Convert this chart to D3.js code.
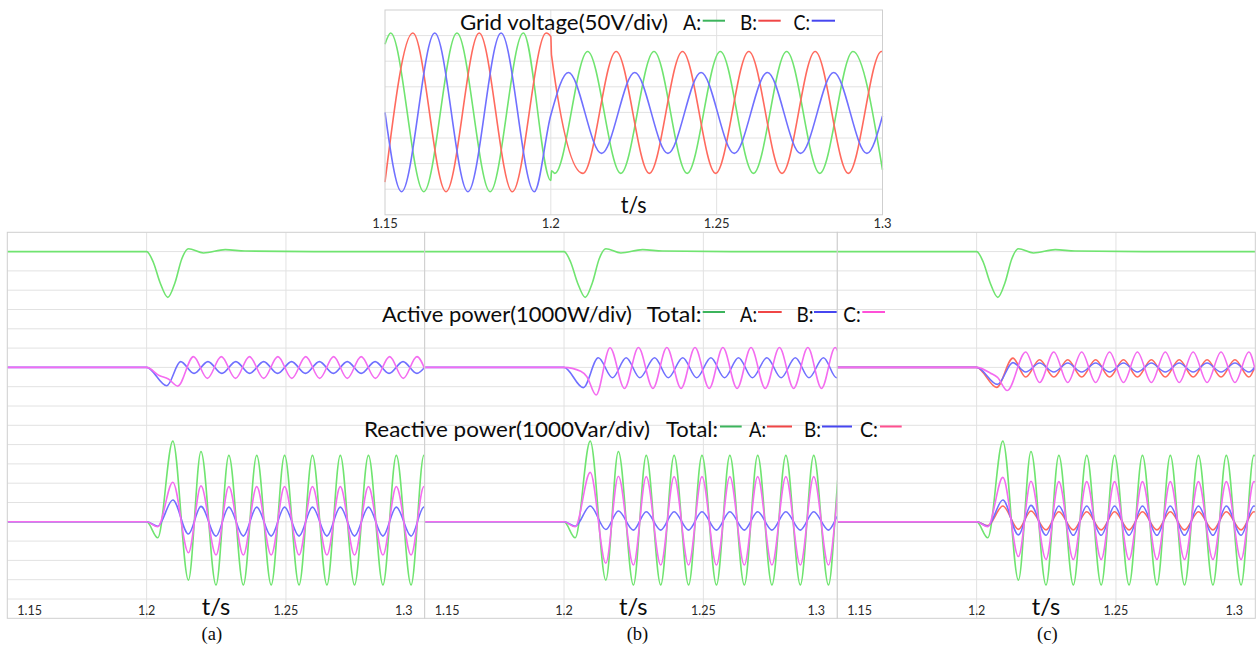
<!DOCTYPE html>
<html><head><meta charset="utf-8">
<script src="https://cdn.jsdelivr.net/npm/d3@7"></script>
<style>body{margin:0;background:#fff;} svg{display:block;}</style>
</head><body><svg id="c" width="1257" height="650"></svg>
<script>
// ================= DATA =================
const xTicks = [1.15, 1.2, 1.25, 1.3];
const xTickLabels = ["1.15", "1.2", "1.25", "1.3"];
const panelCaptions = ["(a)", "(b)", "(c)"];

// Grid voltage extrema [t (s), V]
const voltageA = [[1.15,133],[1.1517,155],[1.1617,-155],[1.1717,155],[1.1817,-155],[1.1917,155],[1.2,-133],
  [1.2002,-114],[1.2012,-119],[1.2111,119],[1.2211,-119],[1.2311,119],[1.2411,-119],[1.2511,119],
  [1.2611,-119],[1.2711,119],[1.2811,-119],[1.2911,119],[1.3,-112]];
const voltageB = [[1.15,-136],[1.1584,155],[1.1684,-155],[1.1784,155],[1.1884,-155],[1.1986,155],[1.2,148],
  [1.2002,112],[1.2097,-119],[1.2197,119],[1.2297,-119],[1.2397,119],[1.2497,-119],[1.2597,119],
  [1.2697,-119],[1.2797,119],[1.2897,-119],[1.2997,119],[1.3,119]];
const voltageC = [[1.15,0],[1.155,-155],[1.165,155],[1.175,-155],[1.185,155],[1.195,-155],[1.2,-5],
  [1.2053,78],[1.2153,-80],[1.2253,78],[1.2353,-80],[1.2453,78],[1.2553,-80],[1.2653,78],
  [1.2753,-80],[1.2853,78],[1.2953,-80],[1.3,-7]];

// Active power (deviation from steady value, W)
const activeTotal = [[1.15,0],[1.2,0],[1.2024,-550],[1.2048,-1600],[1.2076,-2370],[1.2102,-1600],[1.2126,-380],
  [1.2150,150],[1.2204,-70],[1.2282,100],[1.2353,30],[1.26,0],[1.3,0]];
const activeB_a = [[1.15,0],[1.2,0],[1.2072,-950],[1.2122,300],[1.2170,-310],[1.2220,300],[1.2270,-310],[1.2320,300],
  [1.2370,-310],[1.2420,300],[1.2470,-310],[1.2520,300],[1.2570,-310],[1.2620,300],[1.2670,-310],[1.2720,300],
  [1.2770,-310],[1.2820,300],[1.2870,-310],[1.2920,300],[1.2970,-310],[1.3,50]];
const activeC_a = [[1.15,0],[1.2,0],[1.2045,-420],[1.2078,-600],[1.2112,-970],[1.2168,560],[1.2218,-570],[1.2268,560],
  [1.2319,-570],[1.2369,560],[1.2420,-570],[1.2471,560],[1.2521,-570],[1.2571,560],[1.2621,-570],[1.2671,560],
  [1.2720,-570],[1.2770,560],[1.2821,-570],[1.2872,560],[1.2921,-570],[1.2970,560],[1.3,-150]];
const activeB_b = [[1.15,0],[1.2,0],[1.2069,-1050],[1.2123,500],[1.2174,-535],[1.2223,500],[1.2272,-535],[1.2325,500],
  [1.2374,-535],[1.2426,500],[1.2476,-535],[1.2527,500],[1.2576,-535],[1.2626,500],[1.2676,-535],[1.2728,500],
  [1.2779,-535],[1.2830,500],[1.2879,-535],[1.2931,500],[1.2978,-535],[1.3,200]];
const activeC_b = [[1.15,0],[1.2,0],[1.2060,-200],[1.2082,-480],[1.2115,-1430],[1.2165,1020],[1.2217,-1090],[1.2267,1030],
  [1.2319,-1090],[1.2369,1030],[1.2420,-1090],[1.2470,1030],[1.2521,-1090],[1.2570,1030],[1.2621,-1090],[1.2671,1030],
  [1.2722,-1090],[1.2773,1030],[1.2824,-1090],[1.2875,1030],[1.2924,-1090],[1.2973,1030],[1.3,-250]];
const activeA_c = [[1.15,0],[1.2,0],[1.2072,-1035],[1.2130,480],[1.2176,-500],[1.2226,400],[1.2277,-500],[1.2327,400],
  [1.2377,-500],[1.2427,400],[1.2477,-500],[1.2527,400],[1.2577,-500],[1.2627,400],[1.2677,-500],[1.2727,400],
  [1.2777,-500],[1.2827,400],[1.2877,-500],[1.2927,400],[1.2977,-500],[1.3,100]];
const activeB_c = [[1.15,0],[1.2,0],[1.2075,-880],[1.2130,250],[1.2176,-240],[1.2226,230],[1.2277,-240],[1.2327,230],
  [1.2377,-240],[1.2427,230],[1.2477,-240],[1.2527,230],[1.2577,-240],[1.2627,230],[1.2677,-240],[1.2727,230],
  [1.2777,-240],[1.2827,230],[1.2877,-240],[1.2927,230],[1.2977,-240],[1.3,50]];
const activeC_c = [[1.15,0],[1.2,0],[1.2050,-300],[1.2075,-520],[1.2110,-1200],[1.2176,800],[1.2226,-780],[1.2277,800],
  [1.2327,-780],[1.2377,800],[1.2427,-780],[1.2477,800],[1.2527,-780],[1.2577,800],[1.2627,-780],[1.2677,800],
  [1.2727,-780],[1.2777,800],[1.2827,-780],[1.2877,800],[1.2927,-780],[1.2977,800],[1.3,-150]];

// Reactive power extrema times (s) and values (Var)
const reactiveTimes = [1.15,1.2,1.2040,1.2094,1.2150,1.2195,1.2249,1.2295,1.2347,1.2395,1.2447,1.2495,1.2547,1.2595,
  1.2647,1.2695,1.2746,1.2796,1.2848,1.2896,1.2949,1.2995,1.3];
const reactiveTotal = [0,0,-830,4180,-3020,3640,-3270,3440,-3270,3440,-3270,3440,-3270,3440,-3270,3440,-3270,3440,-3270,3440,-3270,3440,3420];
const reactiveB_a = [0,0,-230,1130,-630,800,-740,760,-740,760,-740,760,-740,760,-740,760,-740,760,-740,760,-740,760,750];
const reactiveC_a = [0,0,-260,2050,-1600,1860,-1720,1820,-1720,1820,-1720,1820,-1720,1820,-1720,1820,-1720,1820,-1720,1820,-1720,1820,1800];
const reactiveB_b = [0,0,-230,820,-400,560,-430,520,-430,520,-430,520,-430,520,-430,520,-430,520,-430,520,-430,520,510];
const reactiveC_b = [0,0,-260,2560,-2150,2360,-2240,2340,-2240,2340,-2240,2340,-2240,2340,-2240,2340,-2240,2340,-2240,2340,-2240,2340,2320];
const reactiveA_c = [0,0,-200,820,-390,560,-420,520,-420,520,-420,520,-420,520,-420,520,-420,520,-420,520,-420,520,510];
const reactiveB_c = [0,0,-230,1130,-680,850,-700,820,-700,820,-700,820,-700,820,-700,820,-700,820,-700,820,-700,820,810];
const reactiveC_c = [0,0,-260,2300,-1800,2100,-1950,2080,-1950,2080,-1950,2080,-1950,2080,-1950,2080,-1950,2080,-1950,2080,-1950,2080,2060];

// ================= LAYOUT / STYLE =================
const FONT = "Lato, Carlito, 'Open Sans', sans-serif";
const C = {green:"#70e470", red:"#ff6a5e", blue:"#7070ff", pink:"#f46cf0",
           lgGreen:"#3cb45c", lgRed:"#f04646", lgBlue:"#4646f0", lgPinkP:"#ff50d8", lgPinkQ:"#ff4f8f",
           grid:"#e2e2e2", border:"#cfcfcf", text:"#0c0c0c", tick:"#2a2a2a"};

const svg = d3.select("#c");

function addText(g, s, x, y, size, w, opts={}) {
  const t = g.append("text").attr("x", x).attr("y", y).text(s)
    .attr("font-family", opts.family || FONT).attr("font-size", size)
    .attr("fill", opts.fill || C.text).attr("text-anchor", opts.anchor || "start");
  if (w) t.attr("textLength", w).attr("lengthAdjust", "spacingAndGlyphs");
  return t;
}

// ---------- top chart ----------
const T = {x0:385, x1:882.5, y0:10, y1:214.8};
const xV = d3.scaleLinear().domain([1.15,1.3]).range([T.x0, T.x1]);
const yV = d3.scaleLinear().domain([-200,200]).range([T.y1, T.y0]);
const gTop = svg.append("g");
gTop.selectAll("line.h").data(d3.range(-150, 200, 50)).enter().append("line")
  .attr("x1", T.x0).attr("x2", T.x1).attr("y1", d=>yV(d)).attr("y2", d=>yV(d))
  .attr("stroke", C.grid).attr("stroke-width", 1);
gTop.selectAll("line.v").data(xTicks.slice(1,3)).enter().append("line")
  .attr("x1", d=>xV(d)).attr("x2", d=>xV(d)).attr("y1", T.y0).attr("y2", T.y1)
  .attr("stroke", C.grid).attr("stroke-width", 1);
const lineV = d3.line().x(d=>xV(d[0])).y(d=>yV(d[1])).curve(d3.curveMonotoneX);
[[voltageA, C.green],[voltageB, C.red],[voltageC, C.blue]].forEach(([d,c]) => {
  gTop.append("path").attr("d", lineV(d)).attr("fill","none").attr("stroke", c).attr("stroke-width", 1.6);
});
gTop.append("rect").attr("x", T.x0).attr("y", T.y0).attr("width", T.x1-T.x0).attr("height", T.y1-T.y0)
  .attr("fill","none").attr("stroke", C.border);
xTicks.forEach((t,i) => addText(gTop, xTickLabels[i], xV(t), 227.5, 13, null, {anchor:"middle", fill:C.tick}));
addText(gTop, "Grid voltage(50V/div)", 460, 30, 21.5, 208);
addText(gTop, "A:", 683, 30, 21.5, 18);
addText(gTop, "B:", 740, 30, 21.5, 17);
addText(gTop, "C:", 793.5, 30, 21.5, 16.5);
[[702.7,725,C.lgGreen],[758.3,780.7,C.lgRed],[811.7,835,C.lgBlue]].forEach(([a,b,c]) =>
  gTop.append("line").attr("x1",a).attr("x2",b).attr("y1",20.7).attr("y2",20.7).attr("stroke",c).attr("stroke-width",2));
addText(gTop, "t/s", 620.7, 213, 23, 26);

// ---------- bottom panels ----------
const panelL = [7.3, 424.7, 837.3];
const panelW = 418;
const bY0 = 232.3, bY1 = 618.3;
const yB = d3.scaleLinear().domain([-5000, 15000]).range([bY1, bY0]);
const OFFSET = {pTotal:14000, pPhase:8000, q:0};
const panelSeries = [
  {active:[[activeB_a,C.blue],[activeC_a,C.pink]], reactive:[[reactiveB_a,C.blue],[reactiveC_a,C.pink]]},
  {active:[[activeB_b,C.blue],[activeC_b,C.pink]], reactive:[[reactiveB_b,C.blue],[reactiveC_b,C.pink]]},
  {active:[[activeA_c,C.red],[activeB_c,C.blue],[activeC_c,C.pink]],
   reactive:[[reactiveA_c,C.red],[reactiveB_c,C.blue],[reactiveC_c,C.pink]]}
];
const defs = svg.append("defs");

panelL.forEach((L, i) => {
  const xS = d3.scaleLinear().domain([1.15,1.3]).range([L, L + panelW]);
  const right = i < 2 ? Math.min(L + panelW, panelL[i+1]) : L + panelW;
  defs.append("clipPath").attr("id", "clip"+i).append("rect")
    .attr("x", L).attr("y", bY0).attr("width", right - L).attr("height", bY1 - bY0);
  const g = svg.append("g");
  const gc = g.append("g").attr("clip-path", `url(#clip${i})`);
  gc.append("rect").attr("x", L).attr("y", bY0).attr("width", right-L).attr("height", bY1-bY0).attr("fill","#fff");
  gc.selectAll("line.h").data(d3.range(-4000, 15000, 1000)).enter().append("line")
    .attr("x1", L).attr("x2", right).attr("y1", d=>yB(d)).attr("y2", d=>yB(d))
    .attr("stroke", C.grid).attr("stroke-width", 1);
  gc.selectAll("line.v").data(xTicks.slice(1,3)).enter().append("line")
    .attr("x1", d=>xS(d)).attr("x2", d=>xS(d)).attr("y1", bY0).attr("y2", bY1)
    .attr("stroke", C.grid).attr("stroke-width", 1);
  const mk = off => d3.line().x(d=>xS(d[0])).y(d=>yB(d[1] + off)).curve(d3.curveMonotoneX);
  const draw = (d, c, off) => gc.append("path").attr("d", mk(off)(d)).attr("fill","none")
    .attr("stroke", c).attr("stroke-width", 1.6);
  draw(activeTotal, C.green, OFFSET.pTotal);
  panelSeries[i].active.forEach(([d,c]) => draw(d, c, OFFSET.pPhase));
  draw(d3.zip(reactiveTimes, reactiveTotal), C.green, OFFSET.q);
  panelSeries[i].reactive.forEach(([v,c]) => draw(d3.zip(reactiveTimes, v), c, OFFSET.q));
  g.append("rect").attr("x", L).attr("y", bY0).attr("width", right-L).attr("height", bY1-bY0)
    .attr("fill","none").attr("stroke", C.border);
  // tick labels inside bottom of panel
  addText(g, xTickLabels[0], L + 10, 614.5, 12.5, null, {fill:C.tick});
  addText(g, xTickLabels[1], xS(xTicks[1]), 614.5, 12.5, null, {anchor:"middle", fill:C.tick});
  addText(g, xTickLabels[2], xS(xTicks[2]), 614.5, 12.5, null, {anchor:"middle", fill:C.tick});
  addText(g, xTickLabels[3], right - 21, 614.5, 12.5, null, {anchor:"middle", fill:C.tick});
  addText(g, "t/s", L + 194.4, 615, 23, 28.5);
  addText(g, panelCaptions[i], L + [204.5, 212.8, 210][i], 639.5, 18.5, null,
    {anchor:"middle", family:"'Liberation Serif', 'Times New Roman', serif"});
});

// ---------- legends for the bottom panels ----------
const gL = svg.append("g");
addText(gL, "Active power(1000W/div)", 382, 322, 21.5, 250);
addText(gL, "Total:", 646.7, 322, 21.5, 55);
addText(gL, "A:", 740, 322, 21.5, 17);
addText(gL, "B:", 796.5, 322, 21.5, 17);
addText(gL, "C:", 843.3, 322, 21.5, 17.4);
[[702.7,725,C.lgGreen],[758,781.7,C.lgRed],[814,836.7,C.lgBlue],[862.3,885,C.lgPinkP]].forEach(([a,b,c]) =>
  gL.append("line").attr("x1",a).attr("x2",b).attr("y1",312).attr("y2",312).attr("stroke",c).attr("stroke-width",2));
addText(gL, "Reactive power(1000Var/div)", 364, 437, 21.5, 286);
addText(gL, "Total:", 666, 437, 21.5, 52);
addText(gL, "A:", 749, 437, 21.5, 17);
addText(gL, "B:", 804, 437, 21.5, 17);
addText(gL, "C:", 860, 437, 21.5, 18);
[[720,741.7,C.lgGreen],[767,792,C.lgRed],[822,852,C.lgBlue],[880,901.7,C.lgPinkQ]].forEach(([a,b,c]) =>
  gL.append("line").attr("x1",a).attr("x2",b).attr("y1",426.5).attr("y2",426.5).attr("stroke",c).attr("stroke-width",2));
</script></body></html>
